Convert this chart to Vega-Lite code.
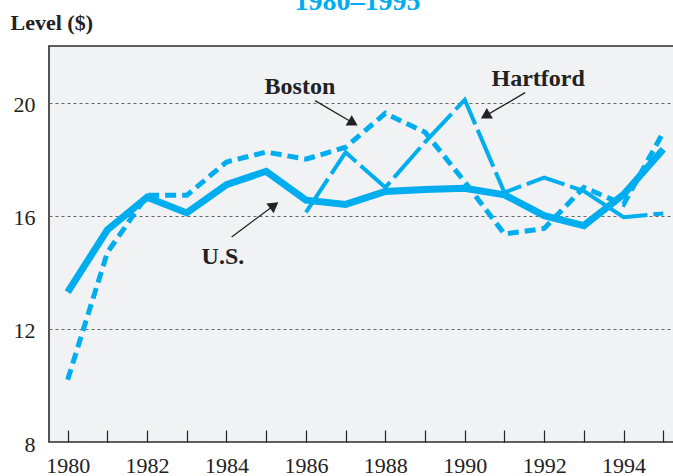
{
  "$schema": "https://vega.github.io/schema/vega-lite/v6.json",
  "width": 625,
  "height": 396,
  "autosize": {"type": "none"},
  "padding": {"left": 49, "top": 46, "right": 0, "bottom": 34},
  "background": "white",
  "title": {"text": "1980–1995", "color": "#00aeef", "font": "'Liberation Serif', 'Times New Roman', serif", "fontSize": 28, "fontWeight": "bold", "anchor": "middle", "frame": "group", "offset": 0, "baseline": "alphabetic", "dx": -4, "dy": 27},
  "config": {"view": {"fill": "#f1f2f4", "stroke": "#2b2b2b", "strokeWidth": 1.6}, "font": "'Liberation Serif', 'Times New Roman', serif"},
  "datasets": {
    "series": [
      {"series": "Boston", "year": 1980, "value": 10.2},
      {"series": "Boston", "year": 1981, "value": 14.7},
      {"series": "Boston", "year": 1982, "value": 16.72},
      {"series": "Boston", "year": 1983, "value": 16.72},
      {"series": "Boston", "year": 1984, "value": 17.9},
      {"series": "Boston", "year": 1985, "value": 18.25},
      {"series": "Boston", "year": 1986, "value": 18.0},
      {"series": "Boston", "year": 1987, "value": 18.42},
      {"series": "Boston", "year": 1988, "value": 19.62},
      {"series": "Boston", "year": 1989, "value": 18.95},
      {"series": "Boston", "year": 1990, "value": 17.2},
      {"series": "Boston", "year": 1991, "value": 15.35},
      {"series": "Boston", "year": 1992, "value": 15.55},
      {"series": "Boston", "year": 1993, "value": 17.0},
      {"series": "Boston", "year": 1994, "value": 16.4},
      {"series": "Boston", "year": 1995, "value": 18.95},
      {"series": "Hartford", "year": 1986, "value": 16.12},
      {"series": "Hartford", "year": 1987, "value": 18.24},
      {"series": "Hartford", "year": 1988, "value": 17.0},
      {"series": "Hartford", "year": 1989, "value": 18.6},
      {"series": "Hartford", "year": 1990, "value": 20.1},
      {"series": "Hartford", "year": 1991, "value": 16.82},
      {"series": "Hartford", "year": 1992, "value": 17.35},
      {"series": "Hartford", "year": 1993, "value": 16.87},
      {"series": "Hartford", "year": 1994, "value": 15.95},
      {"series": "Hartford", "year": 1995, "value": 16.08},
      {"series": "U.S.", "year": 1980, "value": 13.3},
      {"series": "U.S.", "year": 1981, "value": 15.5},
      {"series": "U.S.", "year": 1982, "value": 16.65},
      {"series": "U.S.", "year": 1983, "value": 16.1},
      {"series": "U.S.", "year": 1984, "value": 17.1},
      {"series": "U.S.", "year": 1985, "value": 17.57},
      {"series": "U.S.", "year": 1986, "value": 16.55},
      {"series": "U.S.", "year": 1987, "value": 16.4},
      {"series": "U.S.", "year": 1988, "value": 16.86},
      {"series": "U.S.", "year": 1989, "value": 16.93},
      {"series": "U.S.", "year": 1990, "value": 16.97},
      {"series": "U.S.", "year": 1991, "value": 16.74},
      {"series": "U.S.", "year": 1992, "value": 16.0},
      {"series": "U.S.", "year": 1993, "value": 15.65},
      {"series": "U.S.", "year": 1994, "value": 16.75},
      {"series": "U.S.", "year": 1995, "value": 18.35}
    ],
    "labels": [
      {"label": "Boston", "x": 1985.85, "y": 20.32},
      {"label": "Hartford", "x": 1991.85, "y": 20.57},
      {"label": "U.S.", "x": 1983.91, "y": 14.28}
    ],
    "arrows": [
      {"x": 1986.23, "y": 20.07, "x2": 1987.19, "y2": 19.28, "angle": 120.5},
      {"x": 1991.52, "y": 20.35, "x2": 1990.52, "y2": 19.53, "angle": 239.4},
      {"x": 1984.13, "y": 15.25, "x2": 1985.2, "y2": 16.37, "angle": 53.1}
    ]
  },
  "layer": [
    {
      "data": {"name": "series"},
      "transform": [{"filter": "datum.series == 'Boston'"}],
      "mark": {"type": "line", "color": "#00aeef", "strokeWidth": 5, "strokeDash": [11, 6], "strokeCap": "butt"},
      "encoding": {
        "x": {"field": "year", "type": "quantitative", "scale": {"domain": [1979.53, 1995.27], "nice": false, "zero": false},
          "axis": {"values": [1980,1981,1982,1983,1984,1985,1986,1987,1988,1989,1990,1991,1992,1993,1994,1995], "labelExpr": "datum.value % 2 == 0 ? datum.value : ''", "title": null, "grid": false, "domain": false, "tickSize": -12, "tickColor": "#222", "tickWidth": 1.2, "labelPadding": 25, "labelFontSize": 22, "labelColor": "#222", "labelFlush": false, "labelOverlap": false}},
        "y": {"field": "value", "type": "quantitative", "scale": {"domain": [8, 22], "nice": false, "zero": false},
          "axis": {"values": [8, 12, 16, 20], "grid": true, "gridDash": [3, 3], "gridColor": "#6a6a6a", "gridWidth": 1, "ticks": false, "domain": false, "labelPadding": 14, "labelFontSize": 22, "labelColor": "#222", "labelOffset": 2,
            "title": "Level ($)", "titleAngle": 0, "titleX": -39, "titleY": -17, "titleAlign": "left", "titleBaseline": "alphabetic", "titleFontSize": 22, "titleFontWeight": "bold", "titleColor": "#222"}}
      }
    },
    {
      "data": {"name": "series"},
      "transform": [{"filter": "datum.series == 'Hartford'"}],
      "mark": {"type": "line", "color": "#00aeef", "strokeWidth": 4, "strokeDash": [40, 6], "strokeCap": "butt"},
      "encoding": {
        "x": {"field": "year", "type": "quantitative"},
        "y": {"field": "value", "type": "quantitative"}
      }
    },
    {
      "data": {"name": "series"},
      "transform": [{"filter": "datum.series == 'U.S.'"}],
      "mark": {"type": "line", "color": "#00aeef", "strokeWidth": 7, "strokeCap": "butt"},
      "encoding": {
        "x": {"field": "year", "type": "quantitative"},
        "y": {"field": "value", "type": "quantitative"}
      }
    },
    {
      "data": {"name": "arrows"},
      "mark": {"type": "rule", "color": "#222", "strokeWidth": 1.3},
      "encoding": {
        "x": {"field": "x", "type": "quantitative"},
        "y": {"field": "y", "type": "quantitative"},
        "x2": {"field": "x2"},
        "y2": {"field": "y2"}
      }
    },
    {
      "data": {"name": "arrows"},
      "mark": {"type": "point", "shape": "triangle-up", "filled": true, "color": "#222", "size": 144, "opacity": 1},
      "encoding": {
        "x": {"field": "x2", "type": "quantitative"},
        "y": {"field": "y2", "type": "quantitative"},
        "angle": {"field": "angle", "type": "quantitative", "scale": null}
      }
    },
    {
      "data": {"name": "labels"},
      "mark": {"type": "text", "fontSize": 24, "fontWeight": "bold", "color": "#222", "align": "center", "baseline": "alphabetic"},
      "encoding": {
        "x": {"field": "x", "type": "quantitative"},
        "y": {"field": "y", "type": "quantitative"},
        "text": {"field": "label"}
      }
    }
  ]
}
